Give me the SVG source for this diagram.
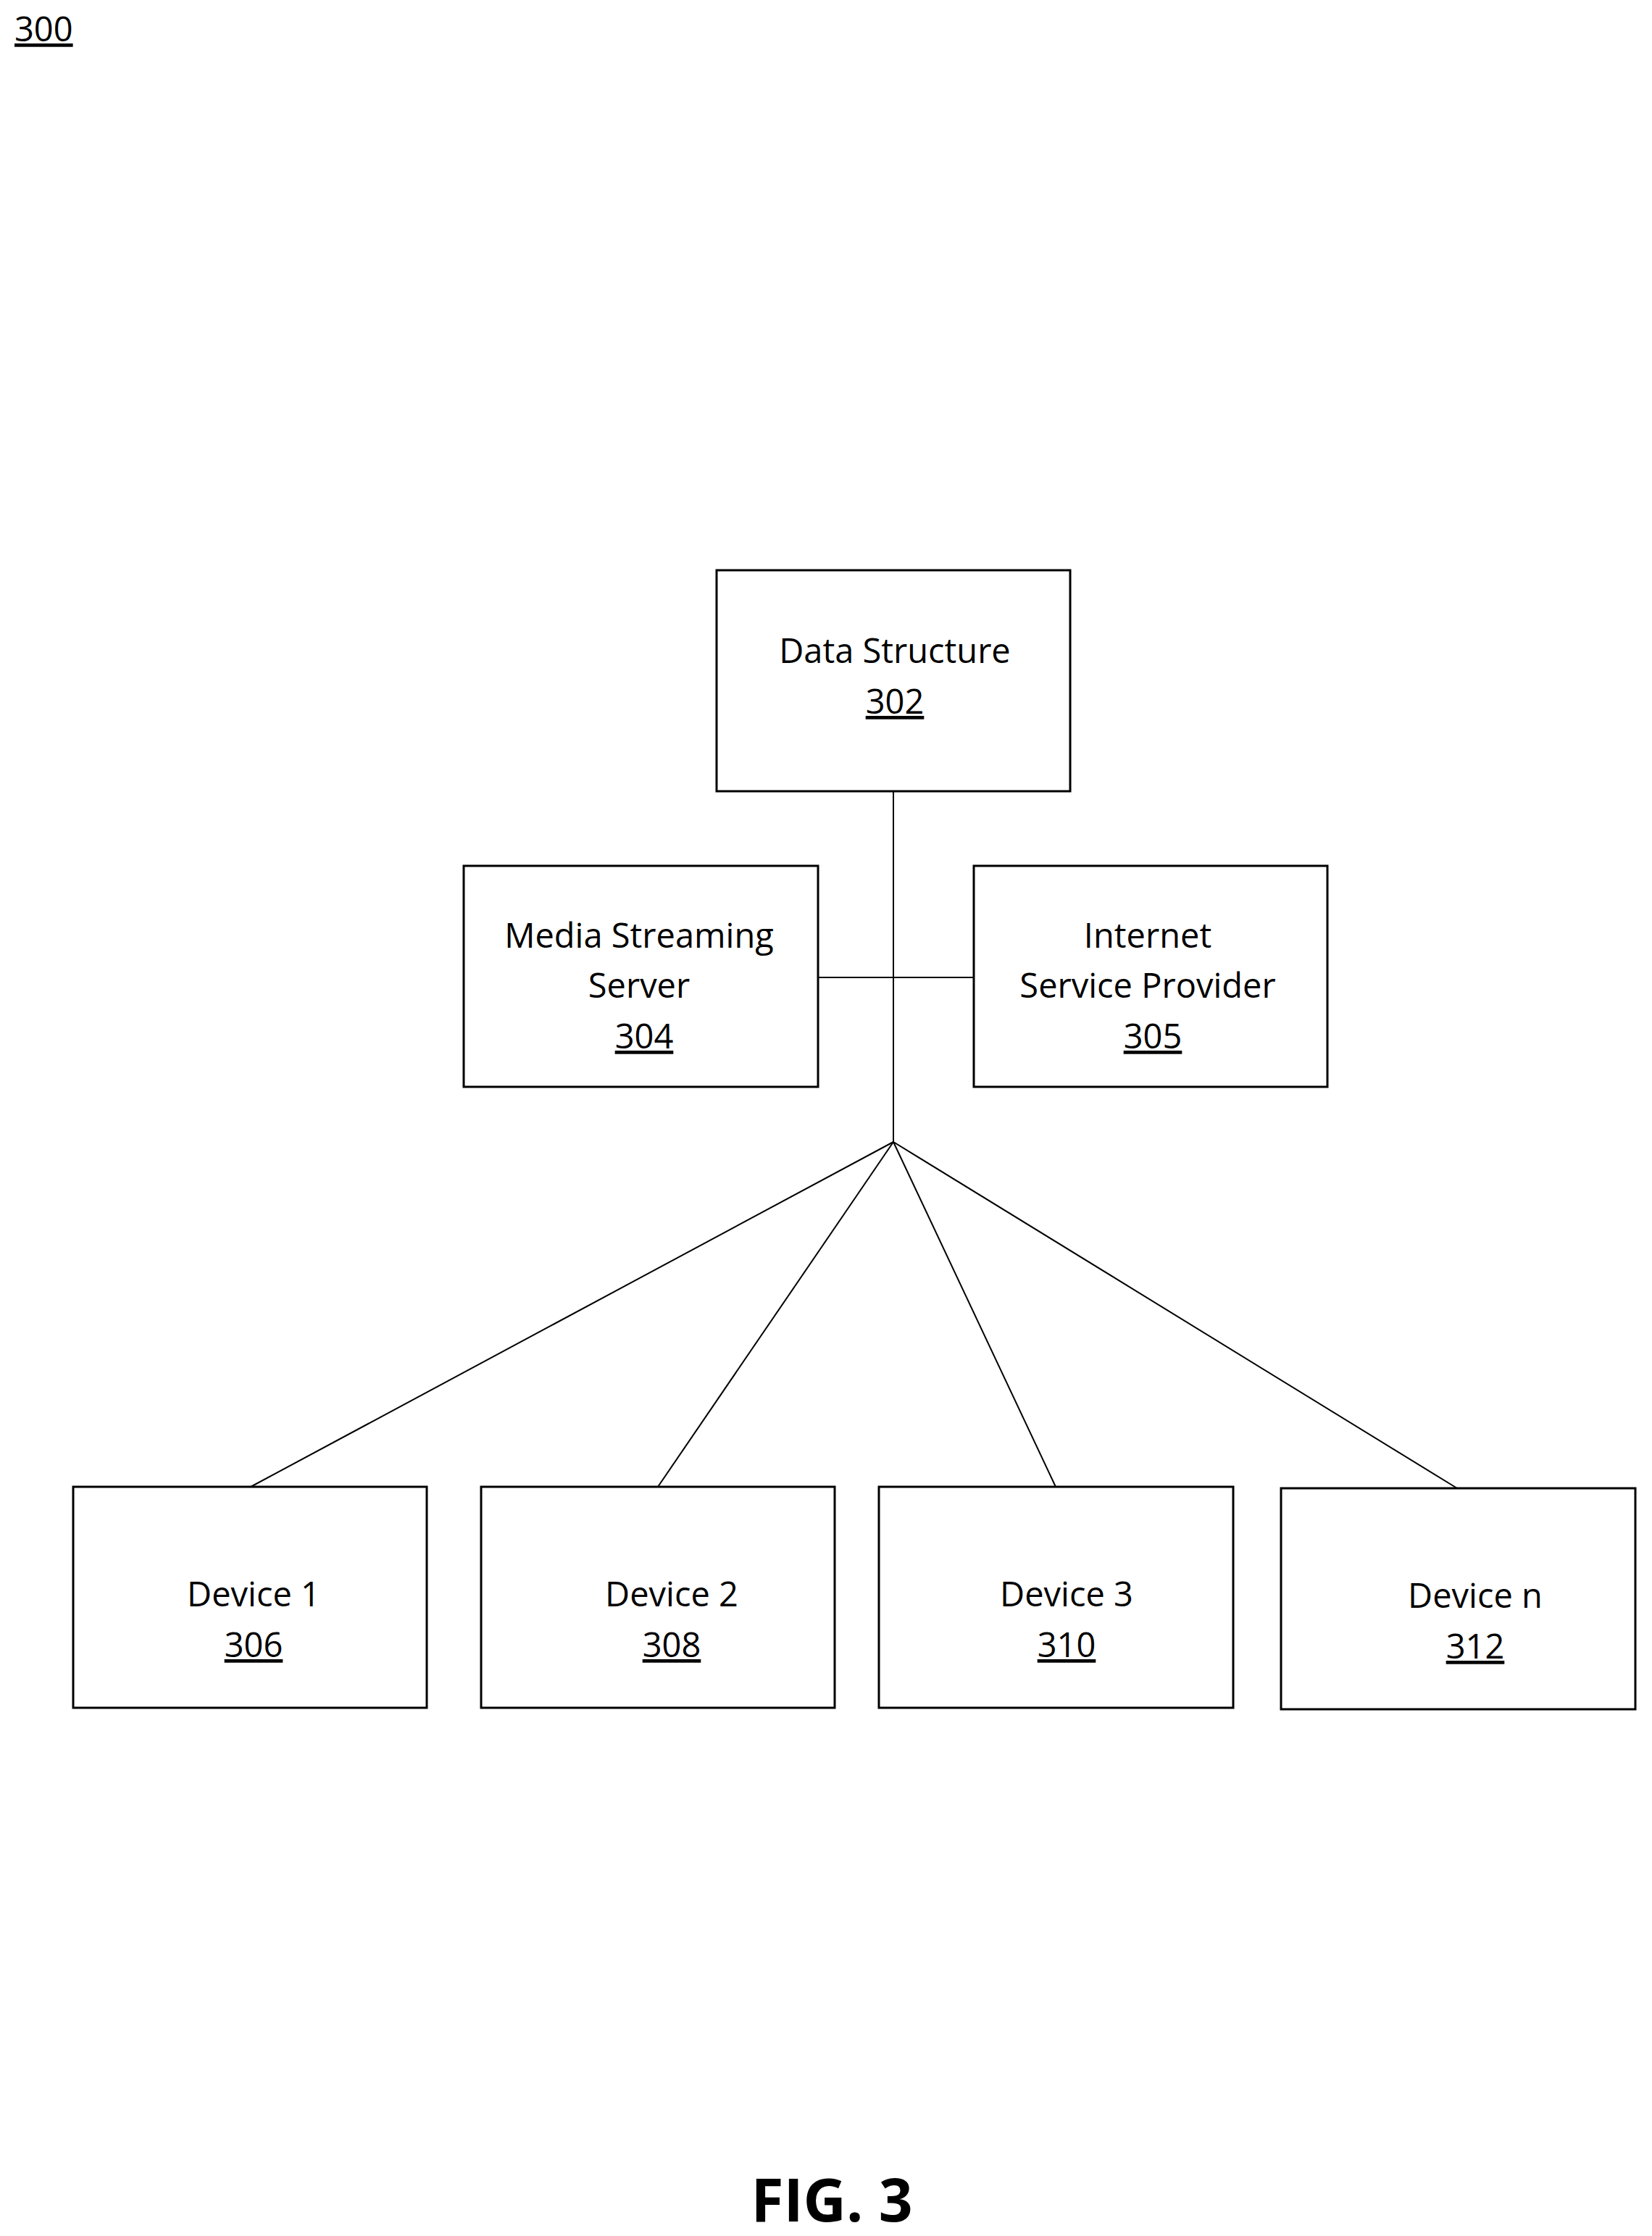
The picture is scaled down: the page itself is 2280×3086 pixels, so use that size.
<svg xmlns="http://www.w3.org/2000/svg" width="2280" height="3086" viewBox="0 0 2280 3086">
<style>
text{font-family:"Open Sans","Liberation Sans",sans-serif;font-size:47px;fill:#000;text-anchor:middle}
.u{text-decoration:underline}
rect{fill:#fff;stroke:#000;stroke-width:3}
line{stroke:#000;stroke-width:2}
</style>
<rect x="0" y="0" width="2280" height="3086" style="stroke:none"/>
<text x="20" y="57" class="u" style="text-anchor:start">300</text>
<g id="connectors">
<line x1="1233" y1="1092" x2="1233" y2="1576"/>
<line x1="1129" y1="1349" x2="1344" y2="1349"/>
<line x1="1233" y1="1576" x2="346" y2="2052"/>
<line x1="1233" y1="1576" x2="908" y2="2052"/>
<line x1="1233" y1="1576" x2="1457" y2="2052"/>
<line x1="1233" y1="1576" x2="2011" y2="2054"/>
</g>
<g id="n302"><rect x="989" y="787" width="488" height="305"/><text x="1235" y="915">Data Structure</text><text x="1235" y="985" class="u">302</text></g>
<g id="n304"><rect x="640" y="1195" width="489" height="305"/><text x="882" y="1308">Media Streaming</text><text x="882" y="1377">Server</text><text x="889" y="1447" class="u">304</text></g>
<g id="n305"><rect x="1344" y="1195" width="488" height="305"/><text x="1584" y="1308">Internet</text><text x="1584" y="1377">Service Provider</text><text x="1591" y="1447" class="u">305</text></g>
<g id="n306"><rect x="101" y="2052" width="488" height="305"/><text x="350" y="2217">Device 1</text><text x="350" y="2287" class="u">306</text></g>
<g id="n308"><rect x="664" y="2052" width="488" height="305"/><text x="927" y="2217">Device 2</text><text x="927" y="2287" class="u">308</text></g>
<g id="n310"><rect x="1213" y="2052" width="489" height="305"/><text x="1472" y="2217">Device 3</text><text x="1472" y="2287" class="u">310</text></g>
<g id="n312"><rect x="1768" y="2054" width="489" height="305"/><text x="2036" y="2219">Device n</text><text x="2036" y="2289" class="u">312</text></g>
<text x="1148" y="3066" style="font-size:82px;font-weight:bold">FIG. 3</text>
</svg>
